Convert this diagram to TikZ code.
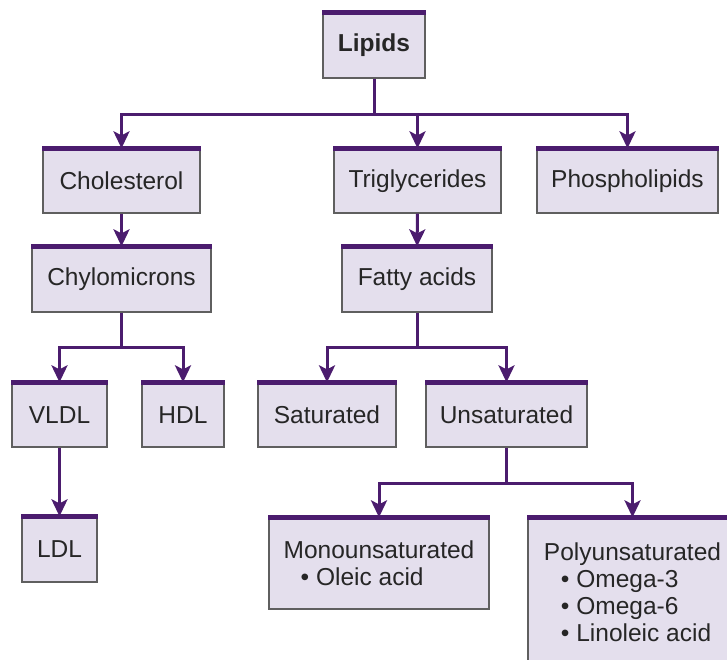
\documentclass[tikz,border=0pt]{standalone}
\usepackage{fontspec}
\setmainfont{Liberation Sans}
\usetikzlibrary{arrows.meta}
\definecolor{plum}{RGB}{75,28,110}
\definecolor{lilac}{RGB}{228,223,237}
\definecolor{rim}{RGB}{95,95,95}
\tikzset{
  box/.style={draw=rim,line width=1.3pt,fill=lilac,inner sep=0pt,text=black!85,
    font=\fontsize{24.5}{27}\selectfont},
  bar/.style={draw=plum,line width=5pt},
  link/.style={draw=plum,line width=3pt}
}
\begin{document}
\begin{tikzpicture}[x=1pt,y=-1pt,>={Stealth[length=17pt,width=16pt,inset=4pt]}]
\useasboundingbox (0,0) rectangle (727,660);
\clip (0,0) rectangle (727,660);

\node[box,minimum width=102pt,minimum height=65pt](lip) at (374,45.5){\bfseries Lipids};
\node[box,minimum width=157pt,minimum height=64pt](chol) at (121.5,181){Cholesterol};
\node[box,minimum width=167pt,minimum height=64pt](trig) at (417.5,181){Triglycerides};
\node[box,minimum width=181pt,minimum height=64pt](phos) at (627.5,181){Phospholipids};
\node[box,minimum width=179pt,minimum height=65pt](chyl) at (121.5,279.5){Chylomicrons};
\node[box,minimum width=150pt,minimum height=65pt](fat) at (417,279.5){Fatty acids};
\node[box,minimum width=95pt,minimum height=64pt](vldl) at (59.5,415){VLDL};
\node[box,minimum width=82pt,minimum height=64pt](hdl) at (183,415){HDL};
\node[box,minimum width=138pt,minimum height=64pt](sat) at (327,415){Saturated};
\node[box,minimum width=161pt,minimum height=64pt](unsat) at (506.5,415){Unsaturated};
\node[box,minimum width=75pt,minimum height=65pt](ldl) at (59.5,549.5){LDL};
\node[box,minimum width=220pt,minimum height=91pt,align=left](mono) at (379,563.5)
  {Monounsaturated\\\hspace{17pt}\textbullet\ Oleic acid};
\node[box,minimum width=209pt,minimum height=148pt,align=left](poly) at (632.5,592)
  {Polyunsaturated\\\hspace{17pt}\textbullet\ Omega-3\\\hspace{17pt}\textbullet\ Omega-6\\
   \hspace{17pt}\textbullet\ Linoleic acid};

% branch points
\coordinate (j1) at (374,115);
\coordinate (j2) at (121.5,347);
\coordinate (j3) at (417,347);
\coordinate (j4) at (506.5,483);

\draw[link](lip.south)--(j1);
\foreach \n in {chol,trig,phos} \draw[link,->](j1)-|(\n.north);
\draw[link,->](chol)--(chyl);
\draw[link](chyl.south)--(j2);
\foreach \n in {vldl,hdl} \draw[link,->](j2)-|(\n.north);
\draw[link,->](vldl)--(ldl);
\draw[link,->](trig)--(fat);
\draw[link](fat.south)--(j3);
\foreach \n in {sat,unsat} \draw[link,->](j3)-|(\n.north);
\draw[link](unsat.south)--(j4);
\foreach \n in {mono,poly} \draw[link,->](j4)-|(\n.north);

\foreach \n in {lip,chol,trig,phos,chyl,fat,vldl,hdl,sat,unsat,ldl,mono,poly}
  \draw[bar](\n.north west)--(\n.north east);
\end{tikzpicture}
\end{document}
